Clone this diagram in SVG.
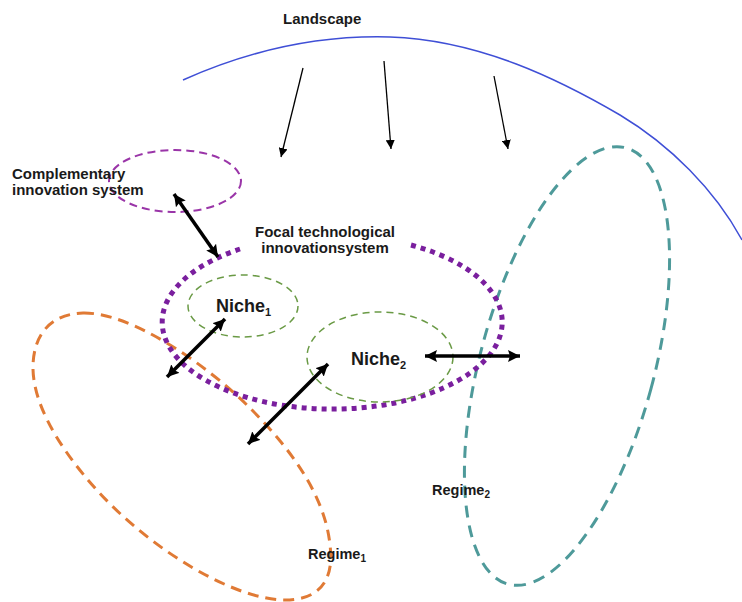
<svg xmlns="http://www.w3.org/2000/svg" width="742" height="602" viewBox="0 0 742 602">
<style>
text{font-family:"Liberation Sans",Arial,sans-serif;font-weight:bold;fill:#1a1a1a}
.lbl{font-size:15px}
.niche{font-size:18px}
.reg{font-size:14.5px}
.thin{stroke:#000;stroke-width:1.3;fill:none;marker-end:url(#ah)}
.thick{stroke:#000;stroke-width:3.5;fill:none;marker-start:url(#bh);marker-end:url(#bh)}
</style>
<defs>
<marker id="ah" markerUnits="userSpaceOnUse" markerWidth="10" markerHeight="9" refX="9" refY="4.5" orient="auto"><path d="M0,0 L9,4.5 L0,9 Z" fill="#000"/></marker>
<marker id="bh" markerUnits="userSpaceOnUse" markerWidth="13" markerHeight="12" refX="12" refY="6" orient="auto-start-reverse"><path d="M0,0 L12,6 L0,12 L2,6 Z" fill="#000"/></marker>
</defs>
<rect width="742" height="602" fill="#fff"/>
<g id="landscape">
<path d="M183,80 C250,50 320,35 390,37 C480,40 560,80 620,115 C670,145 715,190 742,240" fill="none" stroke="#3f4fd6" stroke-width="1.5"/>
<text class="lbl" x="283" y="24">Landscape</text>
</g>
<g id="regime1">
<path d="M83,313 C130,312 205,363 250,408 C290,448 325,495 330,545 C335,585 315,600 285,600 C235,600 150,550 95,488 C55,443 32,400 33,365 C34,335 50,314 83,313 Z" fill="none" stroke="#e07a35" stroke-width="3" stroke-dasharray="11,7"/>
<text class="reg" x="308" y="559">Regime<tspan font-size="10" dy="3">1</tspan></text>
</g>
<g id="regime2">
<ellipse cx="567" cy="366" rx="87" ry="226" transform="rotate(15.1 567 366)" fill="none" stroke="#4e9a9a" stroke-width="3" stroke-dasharray="12,8"/>
<text class="reg" x="432" y="495" font-size="15">Regime<tspan font-size="10" dy="3">2</tspan></text>
</g>
<g id="complementary">
<ellipse cx="175" cy="181" rx="66" ry="31" fill="none" stroke="#9a35a8" stroke-width="2" stroke-dasharray="8,5"/>
<text class="lbl" x="12" y="179">Complementary</text>
<text class="lbl" x="12" y="195">innovation system</text>
</g>
<g id="focal">
<path d="M411,245 A170 87 0 1 1 240,249" fill="none" stroke="#7a1f9e" stroke-width="5" stroke-dasharray="5,5"/>
<text class="lbl" x="325" y="237" text-anchor="middle">Focal technological</text>
<text class="lbl" x="325" y="253" text-anchor="middle">innovationsystem</text>
</g>
<g id="niche1">
<ellipse cx="243" cy="306" rx="55" ry="31" fill="none" stroke="#6a9a45" stroke-width="1.5" stroke-dasharray="7,5"/>
<text class="niche" x="216" y="312">Niche<tspan font-size="11" dy="4">1</tspan></text>
</g>
<g id="niche2">
<ellipse cx="380" cy="357" rx="73" ry="45" fill="none" stroke="#6a9a45" stroke-width="1.5" stroke-dasharray="7,5"/>
<text class="niche" x="351" y="365">Niche<tspan font-size="11" dy="4">2</tspan></text>
</g>
<g id="connectors">
<line class="thin" x1="303" y1="68" x2="281" y2="157"/>
<line class="thin" x1="384" y1="61" x2="391" y2="149"/>
<line class="thin" x1="494" y1="76" x2="508" y2="149"/>
<line class="thick" x1="174" y1="194" x2="218" y2="257"/>
<line class="thick" x1="225" y1="319" x2="167" y2="377"/>
<line class="thick" x1="328" y1="364" x2="248" y2="444"/>
<line class="thick" x1="425" y1="356" x2="520" y2="356"/>
</g>
</svg>
